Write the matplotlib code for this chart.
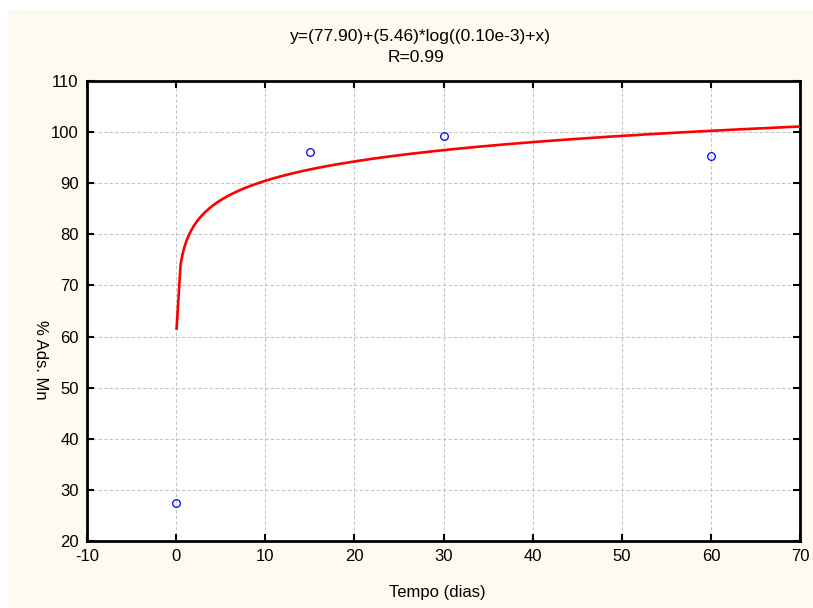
import matplotlib.pyplot as plt
import numpy as np
from matplotlib.patches import Rectangle

plt.rcParams['font.family'] = ['Liberation Sans', 'DejaVu Sans']
plt.rcParams['axes.unicode_minus'] = False

# measured points
tempo = [0, 15, 30, 60]
ads_mn = [27.5, 96.2, 99.3, 95.3]

# fitted model y = a + b*log(c + x)
fit_a, fit_b, fit_c = 77.90, 5.46, 0.10e-3
x_fit = np.concatenate([[0.05], np.linspace(0.5, 70, 300)])
y_fit = fit_a + fit_b * np.log(fit_c + x_fit)

xticks = np.arange(-10, 71, 10)
yticks = np.arange(20, 111, 10)

fig = plt.figure(figsize=(8.13, 6.08), dpi=100)
fig.patch.set_facecolor('white')
# cream panel behind everything
fig.patches.append(Rectangle((8 / 813, 0), 1, 1 - 10 / 608, transform=fig.transFigure,
                             facecolor='#FFFAF0', edgecolor='none', zorder=-10))

ax = fig.add_axes([87 / 813, 1 - 541 / 608, 713 / 813, 460 / 608])
ax.set_facecolor('white')

ax.plot(x_fit, y_fit, color='red', lw=1.9, zorder=3)
ax.plot(tempo, ads_mn, 'o', mfc='none', mec='blue', ms=5.5, mew=0.9, zorder=4)

ax.set_xlim(-10, 70)
ax.set_ylim(20, 110)
ax.set_xticks(xticks)
ax.set_yticks(yticks)
ax.grid(True, color='#c4c4c4', lw=0.8, ls=(0, (3, 2)))
ax.tick_params(direction='in', length=5, width=1.5, top=True, right=True,
               labeltop=False, labelright=False, labelsize=12, pad=6)
for s in ax.spines.values():
    s.set_linewidth(2)

fig.text(420 / 813, 1 - 36 / 608, 'y=(77.90)+(5.46)*log((0.10e-3)+x)',
         ha='center', va='center', fontsize=12.5)
fig.text(416 / 813, 1 - 58 / 608, 'R=0.99', ha='center', va='center', fontsize=12.5)
fig.text(437 / 813, 1 - 593 / 608, 'Tempo (dias)', ha='center', va='center', fontsize=12)
fig.text(40 / 813, 1 - 360 / 608, '% Ads. Mn', ha='center', va='center',
         rotation=270, fontsize=12)

plt.savefig('out.png', dpi=100)
plt.close()
